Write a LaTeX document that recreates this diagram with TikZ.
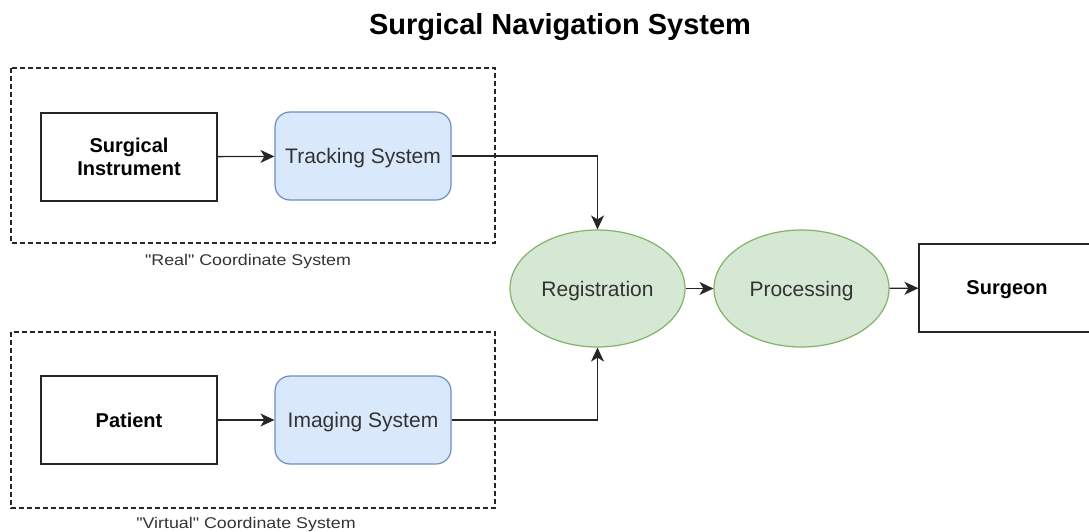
\documentclass[tikz,border=0pt]{standalone}
\usepackage{fontspec}
\setmainfont{Liberation Sans}
\newfontfamily\capfont[FakeStretch=1.15]{Liberation Sans}
\usetikzlibrary{arrows.meta,shapes.geometric,positioning}
\definecolor{bluefill}{HTML}{DAE8FC}
\definecolor{bluedraw}{HTML}{6C8EBF}
\definecolor{greenfill}{HTML}{D5E8D4}
\definecolor{greendraw}{HTML}{82B366}
\definecolor{softtext}{HTML}{333333}
\tikzset{
  plainbox/.style={draw=black!85, line width=1.2pt, minimum width=176pt, minimum height=88pt,
    inner sep=0pt, text depth=0pt, align=center, font=\fontsize{20}{23}\selectfont\bfseries},
  bluebox/.style={draw=bluedraw, fill=bluefill, line width=1.2pt, rounded corners=15pt,
    minimum width=176pt, minimum height=88pt, inner sep=0pt, text depth=0pt, text=softtext,
    font=\fontsize{21}{24}\selectfont},
  greenoval/.style={ellipse, draw=greendraw, fill=greenfill, line width=1.2pt,
    minimum width=175pt, minimum height=117pt, inner sep=0pt, text depth=0pt, text=softtext,
    font=\fontsize{21}{24}\selectfont},
  groupframe/.style={draw=black!85, dashed, dash pattern=on 5pt off 3pt, line width=1.1pt},
  caption/.style={text=softtext, text depth=0pt, font=\capfont\fontsize{15.5}{18}\selectfont},
  link/.style={draw=black!85, line width=1.3pt, -{Stealth[length=14pt,width=13pt,inset=4pt]}}
}
\begin{document}
\begin{tikzpicture}[x=1pt,y=-1pt]
  \useasboundingbox (0,0) rectangle (1089,532);
  \clip (0,0) rectangle (1089,532);

  % title
  \node[text depth=0pt, font=\fontsize{29}{32}\selectfont\bfseries] (title) at (560,24) {Surgical Navigation System};

  % coordinate system groups
  \draw[groupframe] (11,68) rectangle (495,243);
  \node[caption] (realcap) at (248,260) {\symbol{34}Real\symbol{34} Coordinate System};
  \draw[groupframe] (11,332) rectangle (495,508);
  \node[caption] (virtcap) at (246,523) {\symbol{34}Virtual\symbol{34} Coordinate System};

  % nodes
  \node[plainbox] (instr) at (129,157) {Surgical\\Instrument};
  \node[bluebox] (track) at (363,156) {Tracking System};
  \node[plainbox] (patient) at (129,420) {Patient};
  \node[bluebox] (imaging) at (363,420) {Imaging System};
  \node[greenoval] (reg) at (597.5,288.5) {Registration};
  \node[greenoval] (proc) at (801.5,288.5) {Processing};
  \node[plainbox] (surgeon) at (1007,288) {Surgeon};

  % connectors
  \draw[link] (instr) -- (track);
  \draw[link] (patient) -- (imaging);
  \draw[link] (track.east) -| (reg.north);
  \draw[link] (imaging.east) -| (reg.south);
  \draw[link] (reg) -- (proc);
  \draw[link] (proc) -- (surgeon);
\end{tikzpicture}
\end{document}
